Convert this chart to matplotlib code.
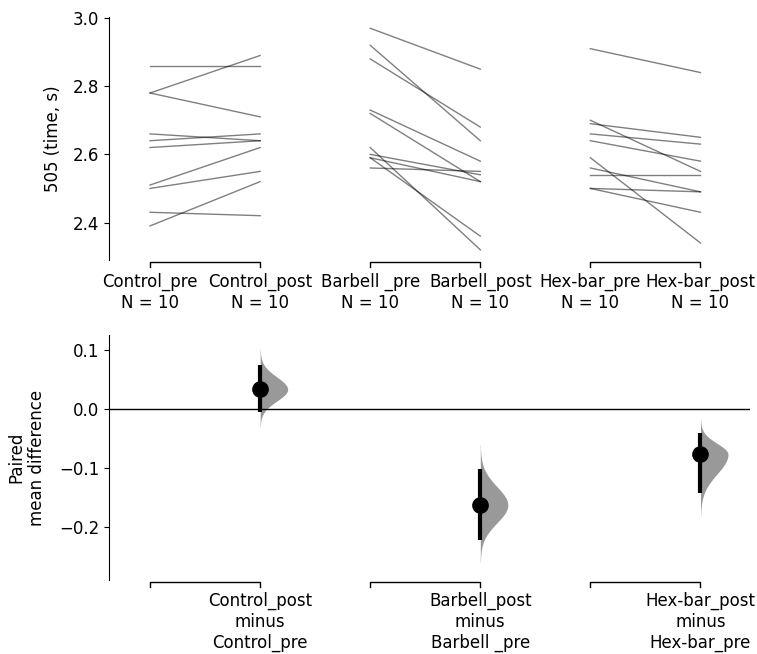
import numpy as np
import matplotlib.pyplot as plt

# Raw paired values (505 test time, s)
control_pre = [2.86, 2.78, 2.78, 2.66, 2.64, 2.62, 2.51, 2.50, 2.43, 2.39]
control_post = [2.86, 2.89, 2.71, 2.64, 2.66, 2.64, 2.62, 2.55, 2.42, 2.52]
barbell_pre = [2.97, 2.92, 2.88, 2.73, 2.72, 2.62, 2.60, 2.59, 2.59, 2.56]
barbell_post = [2.85, 2.64, 2.68, 2.58, 2.52, 2.32, 2.54, 2.52, 2.36, 2.55]
hexbar_pre = [2.91, 2.70, 2.69, 2.66, 2.64, 2.59, 2.56, 2.54, 2.50, 2.50]
hexbar_post = [2.84, 2.55, 2.65, 2.63, 2.58, 2.34, 2.49, 2.54, 2.49, 2.43]

group_names = ["Control_pre", "Control_post", "Barbell _pre", "Barbell_post",
               "Hex-bar_pre", "Hex-bar_post"]
pairs = [(control_pre, control_post), (barbell_pre, barbell_post),
         (hexbar_pre, hexbar_post)]

# Paired mean differences with 95% CI
contrast_labels = ["Control_post\nminus\nControl_pre",
                   "Barbell_post\nminus\nBarbell _pre",
                   "Hex-bar_post\nminus\nHex-bar_pre"]
mean_diff = [0.034, -0.162, -0.076]
ci_low = [-0.005, -0.221, -0.141]
ci_high = [0.075, -0.101, -0.040]

plt.rcParams['font.size'] = 12

fig = plt.figure(figsize=(7.57, 6.54), dpi=100)
W, H = 757, 654
ax1 = fig.add_axes([109 / W, 1 - 260 / H, (750 - 109) / W, (260 - 17) / H])
ax2 = fig.add_axes([109 / W, 1 - 580 / H, (750 - 109) / W, (580 - 335) / H])

xlim = (-0.373, 5.45)

# --- slopegraph ---
for k, (pre, post) in enumerate(pairs):
    for a, b in zip(pre, post):
        ax1.plot([2 * k, 2 * k + 1], [a, b], color='black', alpha=0.5, lw=1)

ax1.set_xlim(xlim)
ax1.set_ylim(2.29, 3.003)
ax1.set_yticks([2.4, 2.6, 2.8, 3.0])
ax1.set_xticks(range(6))
ax1.set_xticklabels([f"{g}\nN = {len(pairs[i // 2][i % 2])}" for i, g in enumerate(group_names)])
ax1.tick_params(axis='x', length=0, pad=9.5)
ax1.set_ylabel("505 (time, s)")

# --- contrast plot ---
ax2.axhline(0, color='black', lw=1)
for k in range(3):
    x = 2 * k + 1
    m = mean_diff[k]
    s_lo = (m - ci_low[k]) / 1.96
    s_hi = (ci_high[k] - m) / 1.96
    yy = np.linspace(m - 3.2 * s_lo, m + 3.3 * s_hi, 300)
    sig = np.where(yy < m, s_lo, s_hi)
    dens = np.exp(-0.5 * ((yy - m) / sig) ** 2)
    ax2.fill_betweenx(yy, x, x + 0.25 * dens, color='#999999', lw=0)
    ax2.plot([x, x], [ci_low[k], ci_high[k]], color='black', lw=3,
             solid_capstyle='butt')
    ax2.plot(x, m, 'o', color='black', ms=11)

ax2.set_xlim(xlim)
ax2.set_ylim(-0.289, 0.126)
ax2.set_yticks([-0.2, -0.1, 0.0, 0.1])
ax2.set_xticks([1, 3, 5])
ax2.set_xticklabels(contrast_labels)
ax2.tick_params(axis='x', length=0, pad=8.5)
ax2.set_ylabel("Paired\nmean difference")

# brackets in place of the bottom spine
for ax in (ax1, ax2):
    for s in ('top', 'right', 'bottom'):
        ax.spines[s].set_visible(False)
    trans = ax.get_xaxis_transform()
    d = 5 / (ax.bbox.height)
    y0 = -1.7 / ax.bbox.height
    for k in range(3):
        ax.plot([2 * k, 2 * k, 2 * k + 1, 2 * k + 1],
                [y0 - d, y0, y0, y0 - d], color='black', lw=1,
                transform=trans, clip_on=False)

ax1.yaxis.set_label_coords(-0.073, 0.5)
ax2.yaxis.set_label_coords(-0.098, 0.5)

fig.savefig("out.png", dpi=100)
